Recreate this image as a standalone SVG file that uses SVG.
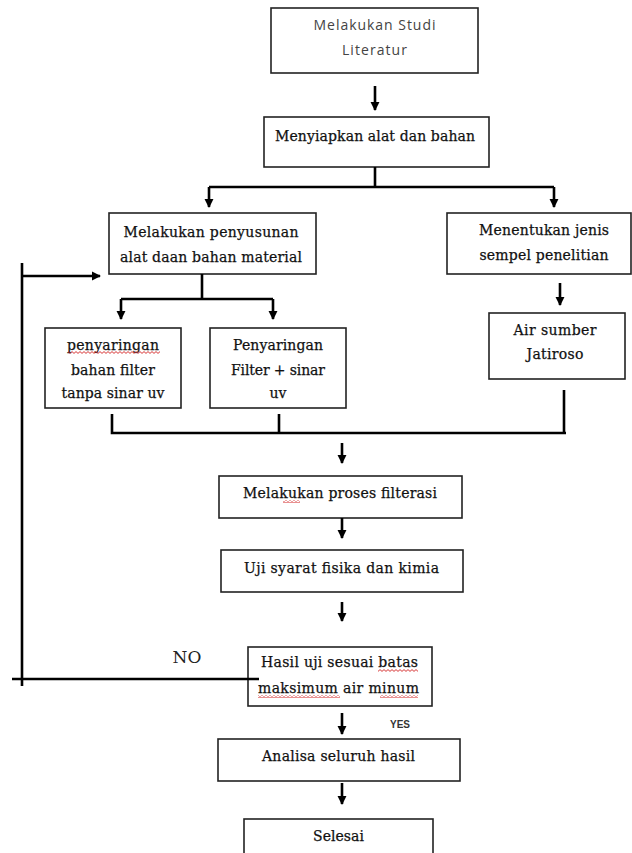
<svg xmlns="http://www.w3.org/2000/svg" width="632" height="853" viewBox="0 0 632 853">
<style>
.box{fill:#fff;stroke:#222;stroke-width:1.6}
.t{font-family:"DejaVu Serif","Liberation Serif",serif;font-size:14px;fill:#111;stroke:#111;stroke-width:0.25;text-anchor:middle}
.s{font-family:"Open Sans","Liberation Sans",sans-serif;font-size:14px;fill:#444;text-anchor:middle}
.ln{fill:none;stroke:#000;stroke-width:2.6}
.sq{fill:url(#squig)}
</style>
<defs>
<marker id="ah" viewBox="0 0 10 10" refX="9" refY="5" markerWidth="3.6" markerHeight="3.6" orient="auto" markerUnits="strokeWidth">
<path d="M0,0 L10,5 L0,10 Z" fill="#000"/>
</marker>
<pattern id="squig" patternUnits="userSpaceOnUse" width="4" height="3">
<path d="M0,0.6 L2,2.4 L4,0.6" fill="none" stroke="#d21f1f" stroke-width="0.9"/>
</pattern>
</defs>
<rect width="632" height="853" fill="#fff"/>
<g id="n1"><rect class="box" x="271" y="8" width="207" height="65"/>
<text class="s" x="374.5" y="30" textLength="122">Melakukan Studi</text>
<text class="s" x="374.5" y="55" textLength="65">Literatur</text></g>
<g id="n2"><rect class="box" x="264" y="117" width="225" height="50"/>
<text class="t" x="375" y="141" textLength="200">Menyiapkan alat dan bahan</text></g>
<g id="n3"><rect class="box" x="109" y="213" width="207" height="61"/>
<text class="t" x="211" y="237" textLength="175">Melakukan penyusunan</text>
<text class="t" x="211" y="262" textLength="182">alat daan bahan material</text></g>
<g id="n4"><rect class="box" x="447" y="213" width="184" height="61"/>
<text class="t" x="544" y="235" textLength="130">Menentukan jenis</text>
<text class="t" x="544" y="260" textLength="129">sempel penelitian</text></g>
<g id="n5"><rect class="box" x="489" y="313" width="136" height="66"/>
<text class="t" x="555" y="335" textLength="83">Air sumber</text>
<text class="t" x="555" y="359" textLength="57">Jatiroso</text></g>
<g id="n6"><rect class="box" x="45" y="328" width="136" height="80"/>
<text class="t" x="113" y="350" textLength="92">penyaringan</text>
<rect class="sq" x="68" y="351" width="92" height="3"/>
<text class="t" x="113" y="375" textLength="84">bahan filter</text>
<text class="t" x="113" y="398" textLength="103">tanpa sinar uv</text></g>
<g id="n7"><rect class="box" x="210" y="328" width="136" height="80"/>
<text class="t" x="278" y="350" textLength="90">Penyaringan</text>
<text class="t" x="278" y="375" textLength="94">Filter + sinar</text>
<text class="t" x="278" y="398">uv</text></g>
<g id="n8"><rect class="box" x="219" y="476" width="243" height="42"/>
<text class="t" x="340" y="498" textLength="194">Melakukan proses filterasi</text>
<rect class="sq" x="283" y="500" width="17" height="3"/></g>
<g id="n9"><rect class="box" x="221" y="550" width="242" height="42"/>
<text class="t" x="341.5" y="573" textLength="195">Uji syarat fisika dan kimia</text></g>
<g id="n10"><rect class="box" x="248" y="647" width="184" height="59"/>
<text class="t" x="339.5" y="667" textLength="157">Hasil uji sesuai batas</text>
<rect class="sq" x="378" y="669" width="40" height="3"/>
<text class="t" x="338.5" y="693" textLength="161">maksimum air minum</text>
<rect class="sq" x="258" y="695" width="82" height="3"/>
<rect class="sq" x="380" y="695" width="38" height="3"/></g>
<g id="n11"><rect class="box" x="218" y="739" width="242" height="42"/>
<text class="t" x="338.5" y="761" textLength="153">Analisa seluruh hasil</text></g>
<g id="n12"><rect class="box" x="244" y="819" width="189" height="50"/>
<text class="t" x="338.5" y="841" textLength="51">Selesai</text></g>
<g id="connectors">
<line class="ln" x1="375" y1="86" x2="375" y2="110" marker-end="url(#ah)"/>
<polyline class="ln" points="375,167 375,187"/>
<polyline class="ln" points="209,187 554,187"/>
<line class="ln" x1="209" y1="187" x2="209" y2="207" marker-end="url(#ah)"/>
<line class="ln" x1="554" y1="187" x2="554" y2="207" marker-end="url(#ah)"/>
<polyline class="ln" points="202,274 202,299"/>
<polyline class="ln" points="121,299 273,299"/>
<line class="ln" x1="121" y1="299" x2="121" y2="319" marker-end="url(#ah)"/>
<line class="ln" x1="273" y1="299" x2="273" y2="319" marker-end="url(#ah)"/>
<line class="ln" x1="560" y1="283" x2="560" y2="305" marker-end="url(#ah)"/>
<polyline class="ln" points="112,414 112,433 566,433"/>
<line class="ln" x1="279" y1="414" x2="279" y2="433"/>
<line class="ln" x1="564" y1="390" x2="564" y2="433"/>
<line class="ln" x1="342" y1="443" x2="342" y2="463" marker-end="url(#ah)"/>
<line class="ln" x1="342" y1="518" x2="342" y2="538" marker-end="url(#ah)"/>
<line class="ln" x1="342" y1="602" x2="342" y2="621" marker-end="url(#ah)"/>
<line class="ln" x1="342" y1="713" x2="342" y2="734" marker-end="url(#ah)"/>
<line class="ln" x1="342" y1="783" x2="342" y2="804" marker-end="url(#ah)"/>
<line class="ln" x1="12" y1="679" x2="259" y2="679"/>
<line class="ln" x1="22" y1="263" x2="22" y2="686"/>
<line class="ln" x1="22" y1="276" x2="100" y2="276" marker-end="url(#ah)"/>
</g>
<g id="labels">
<text x="187" y="663" font-family="DejaVu Serif, Liberation Serif, serif" font-size="17" fill="#222" text-anchor="middle" textLength="29">NO</text>
<text x="400" y="728" font-family="Liberation Sans, Arial, sans-serif" font-size="10" font-weight="bold" fill="#333" text-anchor="middle">YES</text>
</g>
</svg>
